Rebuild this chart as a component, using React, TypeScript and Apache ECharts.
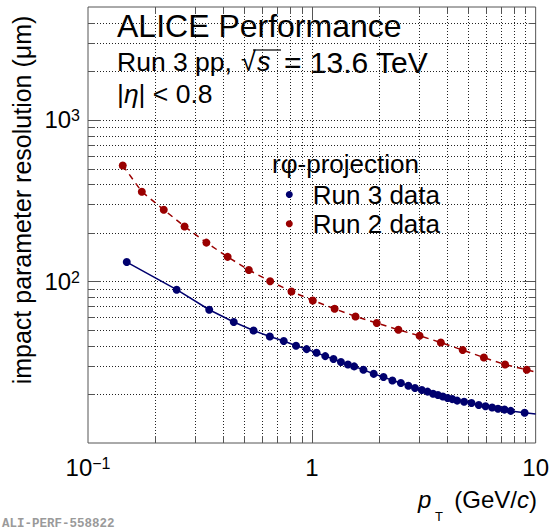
import React, { useEffect, useRef } from 'react';
import * as echarts from 'echarts';

// ---- data ----
const run3Pt = [0.149, 0.249, 0.348, 0.448, 0.549, 0.649, 0.749, 0.85, 0.948, 1.05, 1.148, 1.25, 1.349, 1.45, 1.546, 1.70, 1.89, 2.09, 2.29, 2.50, 2.70, 2.89, 3.10, 3.29, 3.48, 3.66, 3.85, 4.04, 4.24, 4.46, 4.79, 5.17, 5.57, 5.97, 6.39, 6.79, 7.26, 7.74, 8.93];
const run3Res = [131.9, 88.9, 66.8, 56.1, 49.7, 45.6, 42.8, 40.0, 38.1, 36.2, 34.5, 33.1, 31.7, 30.6, 29.8, 28.4, 26.8, 25.6, 24.4, 23.5, 22.6, 21.9, 21.3, 20.8, 20.2, 19.8, 19.4, 19.0, 18.7, 18.3, 18.0, 17.7, 17.2, 16.9, 16.6, 16.3, 16.1, 15.8, 15.4];
const run3LineEnd = [10, 15.1];

const run2Pt = [0.143, 0.174, 0.218, 0.270, 0.338, 0.4205, 0.523, 0.651, 0.811, 1.01, 1.264, 1.567, 1.95, 2.436, 3.03, 3.77, 4.72, 5.87, 7.3, 9.12];
const run2Res = [522, 359, 278, 219, 174, 142, 117.7, 100.4, 86.7, 76.3, 67.8, 60.7, 55.3, 50.2, 46.1, 41.9, 37.6, 33.8, 30.6, 28.4];
const run2LineEnd = [10, 27.5];

const xRange = [0.1, 10];
const yRange = [10, 5000];
const xMajorTicks = [1];
const xMinorTicks = [0.2, 0.3, 0.4, 0.5, 0.6, 0.7, 0.8, 0.9, 2, 3, 4, 5, 6, 7, 8, 9];
const yMajorTicks = [100, 1000];
const yMinorTicks = [20, 30, 40, 50, 60, 70, 80, 90, 200, 300, 400, 500, 600, 700, 800, 900, 2000, 3000, 4000];
const xLabelValues = [0.1, 1, 10];
const xLabelTexts = ['{b|10}{s|−1}', '{b|1}', '{b|10}'];
const yLabelValues = [100, 1000];
const yLabelTexts = ['{b|10}{s|2}', '{b|10}{s|3}'];

const seriesNames = ['Run 3 data', 'Run 2 data'];
const BLUE = '#00006e';
const RED = '#9a0000';
const FONT = '"Liberation Sans", Arial, Helvetica, sans-serif';

const matchLabel = (v: number, vals: number[], texts: string[]) => {
  for (let i = 0; i < vals.length; i++) {
    if (Math.abs(Math.log10(v) - Math.log10(vals[i])) < 1e-6) return texts[i];
  }
  return '';
};

const labelRich = {
  b: { fontSize: 24, fontFamily: FONT, color: '#000', lineHeight: 24 },
  s: { fontSize: 16, fontFamily: FONT, color: '#000', verticalAlign: 'top', lineHeight: 16 },
};

export default function App() {
  const ref = useRef<HTMLDivElement>(null);
  useEffect(() => {
    if (!ref.current) return;
    const chart = echarts.init(ref.current, undefined, { renderer: 'svg' });

    const tickStyle = { stroke: '#555', lineWidth: 1 };
    const gridStyle = { stroke: '#222', lineWidth: 1, lineDash: [1, 2] };

    const xTickSeries = {
      type: 'custom',
      silent: true,
      z: 1,
      clip: false,
      encode: { x: 0, y: 1 },
      data: [
        ...xMajorTicks.map((v) => [v, yRange[0], 1]),
        ...xMinorTicks.map((v) => [v, yRange[0], 0]),
      ],
      renderItem: (params: any, api: any) => {
        const cs = params.coordSys;
        const px = Math.round(api.coord([api.value(0), yRange[0]])[0]) + 0.5;
        const top = cs.y;
        const bottom = cs.y + cs.height;
        const L = api.value(2) === 1 ? 13 : 7;
        return {
          type: 'group',
          children: [
            { type: 'line', shape: { x1: px, y1: top, x2: px, y2: bottom }, style: gridStyle },
            { type: 'line', shape: { x1: px, y1: bottom, x2: px, y2: bottom - L }, style: tickStyle },
            { type: 'line', shape: { x1: px, y1: top, x2: px, y2: top + L }, style: tickStyle },
          ],
        };
      },
    };

    const yTickSeries = {
      type: 'custom',
      silent: true,
      z: 1,
      clip: false,
      encode: { x: 0, y: 1 },
      data: [
        ...yMajorTicks.map((v) => [xRange[0], v, 1]),
        ...yMinorTicks.map((v) => [xRange[0], v, 0]),
      ],
      renderItem: (params: any, api: any) => {
        const cs = params.coordSys;
        const py = Math.round(api.coord([xRange[0], api.value(1)])[1]) + 0.5;
        const left = cs.x;
        const right = cs.x + cs.width;
        const L = api.value(2) === 1 ? 13 : 7;
        return {
          type: 'group',
          children: [
            { type: 'line', shape: { x1: left, y1: py, x2: right, y2: py }, style: gridStyle },
            { type: 'line', shape: { x1: left, y1: py, x2: left + L, y2: py }, style: tickStyle },
            { type: 'line', shape: { x1: right, y1: py, x2: right - L, y2: py }, style: tickStyle },
          ],
        };
      },
    };

    const mkData = (xs: number[], ys: number[], end: number[]) => [
      ...xs.map((x, i) => [x, ys[i]]),
      { value: end, symbol: 'none' },
    ];

    const option: any = {
      animation: false,
      backgroundColor: '#fff',
      grid: {
        left: 88, top: 7, width: 449, height: 436,
        show: true, borderColor: '#555', borderWidth: 1, backgroundColor: 'transparent',
      },
      xAxis: {
        type: 'log', logBase: 10, min: xRange[0], max: xRange[1],
        axisLine: { show: false }, axisTick: { show: false }, splitLine: { show: false },
        minorTick: { show: false }, minorSplitLine: { show: false },
        axisLabel: {
          margin: 12,
          formatter: (v: number) => matchLabel(v, xLabelValues, xLabelTexts),
          rich: labelRich,
        },
      },
      yAxis: {
        type: 'log', logBase: 10, min: yRange[0], max: yRange[1],
        axisLine: { show: false }, axisTick: { show: false }, splitLine: { show: false },
        minorTick: { show: false }, minorSplitLine: { show: false },
        axisLabel: {
          margin: 8,
          formatter: (v: number) => matchLabel(v, yLabelValues, yLabelTexts),
          rich: labelRich,
        },
      },
      legend: {
        data: seriesNames,
        orient: 'vertical',
        left: 285.8,
        top: 181.5,
        padding: 0,
        icon: 'circle',
        itemWidth: 37,
        itemHeight: 7,
        itemGap: 3.3,
        symbolKeepAspect: true,
        textStyle: { fontSize: 26, fontFamily: FONT, color: '#000', lineHeight: 26 },
        selectedMode: false,
      },
      series: [
        xTickSeries,
        yTickSeries,
        {
          name: seriesNames[0],
          type: 'line',
          z: 3,
          data: mkData(run3Pt, run3Res, run3LineEnd),
          symbol: 'circle',
          symbolSize: 8,
          itemStyle: { color: BLUE },
          lineStyle: { color: BLUE, width: 1.5 },
        },
        {
          name: seriesNames[1],
          type: 'line',
          z: 3,
          data: mkData(run2Pt, run2Res, run2LineEnd),
          symbol: 'circle',
          symbolSize: 8,
          itemStyle: { color: RED },
          lineStyle: { color: RED, width: 1.5, type: [6, 5] },
        },
      ],
      graphic: [
        { type: 'text', x: 117, y: 26, style: { text: 'ALICE Performance', font: `32px ${FONT}`, fill: '#000', verticalAlign: 'middle' } },
        { type: 'text', x: 117, y: 62, style: { text: 'Run 3 pp,', font: `26.5px ${FONT}`, fill: '#000', verticalAlign: 'middle' } },
        { type: 'text', x: 241, y: 62, style: { text: '√', font: `27px ${FONT}`, fill: '#000', verticalAlign: 'middle' } },
        { type: 'text', x: 257, y: 62, style: { text: 's', font: `italic 27px ${FONT}`, fill: '#000', verticalAlign: 'middle' } },
        { type: 'line', shape: { x1: 253, y1: 50, x2: 281, y2: 50 }, style: { stroke: '#000', lineWidth: 1.2 } },
        { type: 'text', x: 284, y: 62, style: { text: '= 13.6 TeV', font: `30px ${FONT}`, fill: '#000', verticalAlign: 'middle' } },
        {
          type: 'text', x: 117, y: 94,
          style: {
            text: '{n||}{i|η}{n|| < 0.8}', verticalAlign: 'middle',
            rich: {
              n: { font: `26.5px ${FONT}`, fill: '#000' },
              i: { font: `italic 26.5px ${FONT}`, fill: '#000' },
            },
          },
        },
        { type: 'text', x: 272, y: 164, style: { text: 'rφ-projection', font: `26px ${FONT}`, fill: '#000', verticalAlign: 'middle' } },
        {
          type: 'text', x: 22, y: 200, rotation: Math.PI / 2,
          style: { text: 'impact parameter resolution (μm)', font: `25px ${FONT}`, fill: '#000', align: 'center', verticalAlign: 'middle' },
        },
        { type: 'text', x: 418, y: 499, style: { text: 'p', font: `italic 24px ${FONT}`, fill: '#000', verticalAlign: 'middle' } },
        { type: 'text', x: 435, y: 516, style: { text: 'T', font: `13px ${FONT}`, fill: '#000', verticalAlign: 'middle' } },
        {
          type: 'text', x: 537, y: 499,
          style: {
            text: '{n|(GeV/}{i|c}{n|)}', align: 'right', verticalAlign: 'middle',
            rich: {
              n: { font: `24px ${FONT}`, fill: '#000' },
              i: { font: `italic 24px ${FONT}`, fill: '#000' },
            },
          },
        },
        { type: 'text', x: 2, y: 524, style: { text: 'ALI-PERF-558822', font: `bold 12.5px "Liberation Mono", "DejaVu Sans Mono", monospace`, fill: '#9a9a9a', verticalAlign: 'middle' } },
      ],
    };

    chart.setOption(option);
    return () => chart.dispose();
  }, []);

  return <div ref={ref} style={{ width: 552, height: 531, position: 'absolute', left: 0, top: 0 }} />;
}
